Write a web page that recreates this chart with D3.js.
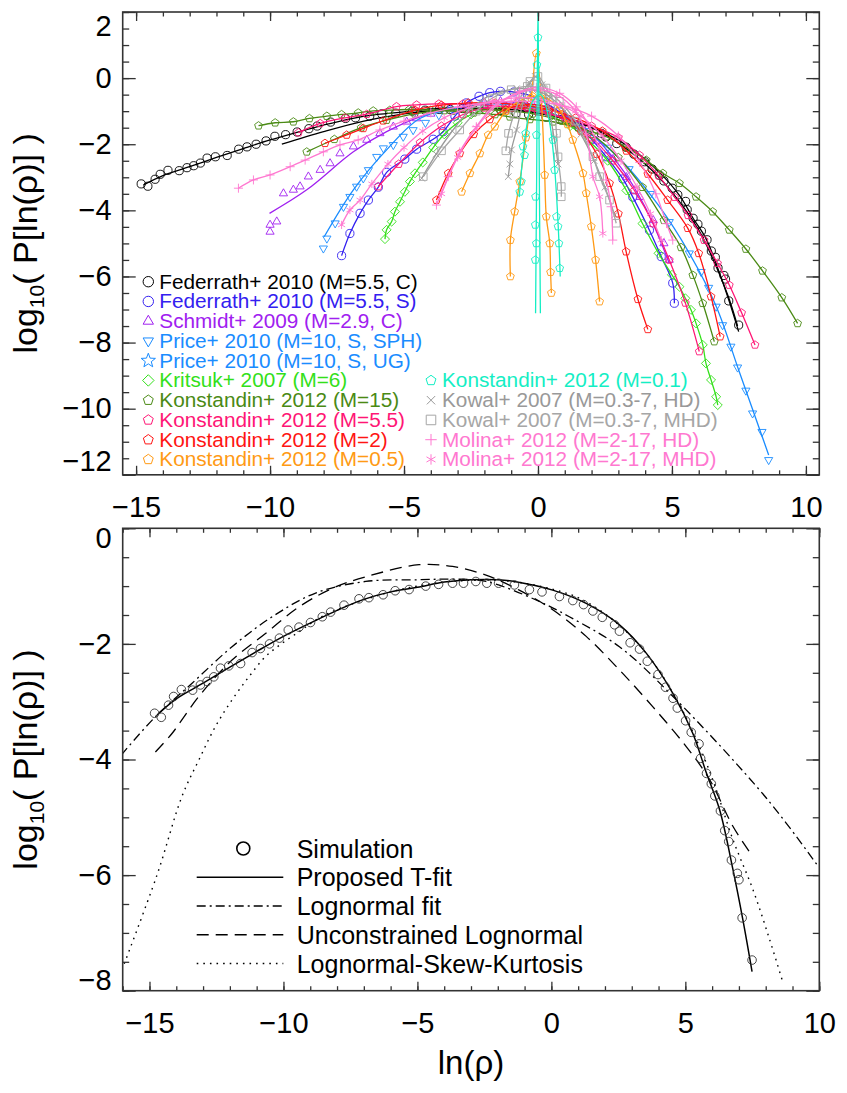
<!DOCTYPE html>
<html>
<head>
<meta charset="utf-8">
<script src="https://cdn.jsdelivr.net/npm/d3@7"></script>
<style>
  body { margin: 0; background: #fff; }
  svg text { font-family: "Liberation Sans", Arial, Helvetica, sans-serif; }
</style>
</head>
<body>
<script>
// ---------------- Data (x = ln(rho), y = log10 P) ----------------

// Federrath+ 2010 (M=5.5, C): also the "Simulation" points of the lower panel
const federrathC = [[-14.81,-3.20],[-14.56,-3.27],[-14.29,-3.06],[-14.10,-2.91],[-13.81,-2.79],[-13.39,-2.80],[-13.10,-2.71],[-12.85,-2.65],[-12.60,-2.57],[-12.35,-2.42],[-12.04,-2.38],[-11.60,-2.34],[-11.17,-2.15],[-10.86,-2.08],[-10.52,-2.00],[-10.15,-1.90],[-9.82,-1.76],[-9.42,-1.71],[-8.99,-1.63],[-8.55,-1.53],[-8.24,-1.45],[-7.74,-1.33],[-7.18,-1.22],[-6.81,-1.20],[-6.28,-1.15],[-5.83,-1.08],[-5.31,-1.06],[-4.69,-1.00],[-4.21,-0.97],[-3.69,-0.95],[-3.28,-0.95],[-2.82,-0.92],[-2.41,-0.95],[-1.97,-0.95],[-1.38,-0.98],[-0.82,-1.06],[-0.35,-1.10],[0.30,-1.18],[0.80,-1.25],[1.20,-1.32],[1.55,-1.43],[1.90,-1.54],[2.36,-1.67],[2.54,-1.78],[2.94,-1.98],[3.29,-2.09],[3.58,-2.30],[3.98,-2.53],[4.26,-2.75],[4.54,-2.94],[4.70,-3.11],[5.01,-3.33],[5.22,-3.53],[5.51,-3.73],[5.57,-3.98],[5.79,-4.24],[5.97,-4.42],[6.10,-4.63],[6.31,-4.89],[6.47,-5.23],[6.62,-5.42],[6.72,-5.74],[6.94,-5.97],[7.00,-6.08],[7.12,-6.74],[7.49,-7.47]];
const tFit = [[-14.72,-3.23],[-14.00,-2.95],[-13.00,-2.68],[-12.00,-2.40],[-11.00,-2.13],[-10.00,-1.87],[-9.00,-1.64],[-8.00,-1.42],[-7.00,-1.23],[-6.00,-1.10],[-5.00,-1.02],[-4.00,-0.93],[-3.00,-0.89],[-2.00,-0.89],[-1.38,-0.92],[0.05,-1.07],[1.30,-1.30],[2.54,-1.67],[3.54,-2.16],[4.54,-2.86],[5.28,-3.55],[5.79,-4.24],[6.28,-4.87],[6.78,-5.91],[7.15,-6.78],[7.49,-7.67]];
const blackSecond = [[-9.56,-2.00],[-8.00,-1.62],[-6.50,-1.30],[-5.00,-1.08],[-3.50,-0.95],[-2.00,-0.92],[-0.50,-1.00],[1.00,-1.22],[2.50,-1.70],[4.00,-2.60],[5.00,-3.45],[6.00,-4.60],[6.60,-5.60],[7.10,-6.60],[7.45,-7.50]];

const federrathS = [[-7.33,-5.37],[-7.02,-4.70],[-6.64,-4.09],[-6.33,-3.69],[-5.96,-3.30],[-5.65,-2.85],[-4.97,-2.45],[-4.53,-2.15],[-3.91,-1.85],[-3.54,-1.62],[-3.10,-1.15],[-2.67,-0.75],[-2.20,-0.55],[-1.80,-0.44],[-1.40,-0.40],[-0.90,-0.42],[-0.40,-0.50],[0.20,-0.72],[0.80,-1.02],[1.40,-1.40],[2.00,-1.85],[2.55,-2.38],[3.17,-3.05],[3.54,-3.60],[4.16,-4.60],[4.60,-5.40],[5.03,-6.20],[5.09,-6.81]];

const schmidt = [[-10.00,-4.65],[-10.00,-4.44],[-9.75,-4.34],[-9.50,-3.49],[-9.13,-3.38],[-8.88,-3.28],[-8.57,-2.98],[-8.13,-2.78],[-7.76,-2.58],[-7.39,-2.28],[-6.89,-2.07],[-6.39,-1.87],[-5.90,-1.67],[-5.40,-1.47],[-4.90,-1.32],[-4.53,-1.22],[-4.00,-1.08],[-3.30,-0.92],[-2.60,-0.82],[-2.00,-0.74],[-1.40,-0.70],[-0.80,-0.72],[-0.20,-0.80],[0.40,-0.95],[1.00,-1.15],[1.60,-1.45],[2.20,-1.90],[2.80,-2.45],[3.30,-3.00],[3.80,-3.60],[4.30,-4.30],[4.70,-5.00],[4.90,-5.50]];
const schmidtFit = [[-10.02,-4.09],[-8.63,-3.38],[-6.89,-2.23],[-5.65,-1.62],[-4.41,-1.17],[-3.00,-0.88],[-1.50,-0.72],[0.00,-0.82],[1.50,-1.35],[3.00,-2.60],[4.00,-3.90],[4.90,-5.60]];

const priceSPH = [[-8.01,-5.15],[-7.88,-4.85],[-7.57,-4.39],[-7.26,-3.89],[-7.02,-3.59],[-6.77,-3.28],[-6.52,-3.03],[-6.33,-2.78],[-6.02,-2.38],[-5.77,-2.12],[-5.40,-2.02],[-5.03,-1.77],[-4.66,-1.57],[-4.20,-1.35],[-3.70,-1.12],[-3.20,-0.95],[-2.60,-0.85],[-2.00,-0.80],[-1.30,-0.78],[-0.50,-0.85],[0.30,-1.00],[1.00,-1.25],[1.80,-1.60],[2.60,-2.10],[3.40,-2.75],[4.20,-3.50],[4.90,-4.35],[5.65,-5.30],[6.09,-5.86],[6.37,-6.34],[6.65,-6.91],[6.89,-7.47],[7.20,-8.12],[7.45,-8.75],[7.76,-9.45],[8.01,-10.14],[8.36,-10.70],[8.61,-11.55]];
const priceFit = [[-7.98,-4.80],[-6.89,-3.38],[-5.65,-2.17],[-4.41,-1.22],[-3.00,-0.90],[-1.50,-0.78],[0.00,-0.92],[1.50,-1.45],[3.00,-2.40],[4.50,-3.85],[5.65,-5.30],[6.65,-6.90],[7.50,-8.85],[8.61,-11.40]];

const kritsuk = [[-5.71,-4.87],[-5.65,-4.59],[-5.46,-4.34],[-5.34,-4.04],[-5.15,-3.74],[-4.97,-3.44],[-4.78,-3.13],[-4.59,-2.88],[-4.30,-2.55],[-3.91,-2.10],[-3.50,-1.70],[-3.00,-1.35],[-2.50,-1.10],[-2.00,-0.95],[-1.40,-0.88],[-0.80,-0.88],[-0.20,-0.95],[0.50,-1.15],[1.20,-1.45],[1.90,-1.90],[2.60,-2.50],[3.30,-3.40],[3.90,-4.40],[4.50,-5.30],[5.00,-5.95],[5.28,-6.31],[5.50,-6.66],[5.71,-7.01],[5.90,-7.42],[6.15,-8.07],[6.27,-8.63],[6.46,-9.13],[6.65,-9.64],[6.71,-9.89]];

const konst15 = [[-10.43,-1.44],[-9.81,-1.35],[-9.13,-1.32],[-8.53,-1.22],[-7.88,-1.15],[-7.33,-1.10],[-6.71,-1.05],[-6.15,-0.99],[-5.53,-0.97],[-4.80,-0.95],[-4.00,-0.97],[-3.20,-1.00],[-2.40,-1.05],[-1.60,-1.10],[-1.05,-1.17],[-0.30,-1.25],[0.56,-1.32],[1.50,-1.50],[2.55,-1.77],[3.30,-2.10],[4.04,-2.48],[4.66,-2.88],[5.28,-3.18],[5.90,-3.59],[6.52,-4.04],[7.14,-4.59],[7.76,-5.17],[8.38,-5.83],[9.10,-6.64],[9.69,-7.42]];
const konst15b = [[-8.63,-2.23],[-7.60,-1.85],[-6.60,-1.50],[-5.65,-1.27],[-4.60,-1.08],[-3.50,-0.98],[-2.40,-0.95],[-1.30,-0.98],[-0.20,-1.08],[0.90,-1.30],[2.00,-1.70],[3.00,-2.40],[3.90,-3.30],[4.70,-4.30],[5.34,-5.12],[5.78,-5.96],[6.15,-6.81],[6.58,-7.97]];

const konst55 = [[-8.94,-1.65],[-8.13,-1.37],[-7.20,-1.20],[-6.39,-1.09],[-5.28,-0.86],[-4.53,-0.81],[-3.70,-0.78],[-2.80,-0.78],[-1.90,-0.82],[-1.00,-0.90],[0.00,-1.02],[1.00,-1.20],[2.00,-1.45],[3.00,-1.80],[3.79,-2.33],[4.50,-2.95],[5.10,-3.60],[5.60,-4.15],[6.20,-4.90],[6.70,-5.60],[7.14,-6.26],[7.60,-7.10],[8.10,-8.07]];
const konst55b = [[-5.96,-3.28],[-5.20,-2.60],[-4.40,-1.95],[-3.60,-1.45],[-2.80,-1.10],[-2.00,-0.90],[-1.20,-0.85],[-0.40,-0.90],[0.40,-1.05],[1.20,-1.35],[2.00,-1.80],[2.80,-2.50],[3.60,-3.40],[4.30,-4.40],[4.90,-5.50],[5.50,-6.80],[6.02,-8.27]];

const konst2 = [[-7.95,-1.97],[-7.14,-1.72],[-6.52,-1.52],[-5.78,-1.29],[-4.59,-0.97],[-3.60,-0.82],[-2.60,-0.75],[-1.60,-0.75],[-0.60,-0.82],[0.40,-0.95],[1.40,-1.20],[2.40,-1.60],[3.30,-2.20],[4.10,-2.90],[4.84,-3.69],[5.59,-4.54],[6.00,-5.30],[6.46,-6.61],[6.80,-7.82]];
const konst2b = [[-3.79,-3.69],[-3.35,-2.88],[-2.92,-2.28],[-2.40,-1.70],[-1.80,-1.25],[-1.20,-0.95],[-0.50,-0.80],[0.20,-0.85],[0.90,-1.10],[1.60,-1.60],[2.20,-2.30],[2.67,-3.18],[3.00,-4.10],[3.29,-5.25],[3.73,-6.69],[4.10,-7.60]];

const konst05 = [[-2.85,-3.44],[-2.54,-2.88],[-2.17,-2.28],[-1.86,-1.72],[-1.61,-1.47],[-1.20,-1.00],[-0.70,-0.70],[-0.20,-0.55],[0.30,-0.60],[0.80,-0.95],[1.10,-1.40],[1.30,-1.87],[1.68,-2.88],[1.80,-3.48],[1.99,-4.49],[2.15,-5.50],[2.30,-6.76]];
const konst05b = [[-1.03,-6.00],[-1.03,-4.90],[-0.87,-4.04],[-0.68,-3.13],[-0.45,-1.80],[-0.25,-0.60],[-0.06,0.75],[0.12,-0.60],[0.25,-2.93],[0.31,-4.19],[0.44,-5.00],[0.47,-5.87],[0.50,-6.50]];

const konst01 = [[-0.10,-5.50],[-0.06,-5.00],[-0.10,-4.44],[-0.09,-3.59],[-0.06,-1.72],[-0.04,0.40],[0.00,1.23]];
const konst01Fit = [[-0.09,-7.11],[-0.05,-3.00],[0.00,2.20],[0.05,-3.00],[0.09,-7.11]];
const konst01b = [[-0.68,-3.44],[-0.62,-3.13],[-0.56,-2.07],[-0.50,-2.33],[-0.46,-1.67],[0.56,-1.87],[0.62,-2.78],[0.69,-4.19],[0.75,-4.49],[0.78,-5.00],[0.81,-5.75]];
const konst01bFit = [[-0.70,-3.60],[-0.45,-1.60],[-0.20,-0.70],[0.10,-0.50],[0.40,-1.20],[0.60,-2.50],[0.75,-4.40],[0.83,-6.00]];

const kowalHDa = [[-1.11,-2.98],[-1.05,-2.60],[-0.99,-2.17],[-0.80,-1.57],[-0.56,-0.76],[-0.30,-0.15],[-0.10,0.05],[0.15,-0.20],[0.40,-0.90],[0.60,-1.80],[0.75,-2.60]];
const kowalHDb = [[-4.34,-3.03],[-3.80,-2.30],[-3.20,-1.60],[-2.60,-1.00],[-2.00,-0.62],[-1.40,-0.42],[-0.80,-0.32],[-0.20,-0.35],[0.40,-0.55],[1.00,-1.00],[1.60,-1.70],[2.10,-2.50],[2.50,-3.30],[2.86,-4.14]];
const kowalMHDa = [[-1.20,-2.20],[-1.10,-1.67],[-0.90,-1.10],[-0.60,-0.50],[-0.30,-0.10],[0.00,0.05],[0.30,-0.30],[0.56,-0.66],[0.69,-1.67],[0.75,-2.38],[0.87,-3.28],[0.87,-3.59]];
const kowalMHDb = [[-4.28,-2.98],[-3.60,-2.20],[-2.92,-1.57],[-2.30,-1.00],[-1.70,-0.60],[-1.00,-0.35],[-0.40,-0.25],[0.20,-0.35],[0.80,-0.70],[1.40,-1.30],[2.05,-2.38],[2.30,-2.98],[2.67,-3.69],[2.92,-4.39]];

const molinaHD = [[-11.18,-3.33],[-10.62,-3.08],[-10.00,-2.93],[-9.25,-2.68],[-8.69,-2.48],[-8.01,-2.23],[-7.39,-2.02],[-6.71,-1.87],[-5.90,-1.57],[-5.00,-1.30],[-4.00,-1.05],[-3.00,-0.88],[-2.00,-0.75],[-1.00,-0.70],[0.00,-0.72],[1.00,-0.85],[2.00,-1.15],[3.00,-1.75],[3.80,-2.55],[4.40,-3.50],[4.80,-4.40],[5.03,-4.90]];
const molinaHDb = [[-3.79,-3.84],[-3.35,-2.98],[-2.92,-2.23],[-2.30,-1.47],[-1.68,-0.87],[-0.68,-0.41],[-0.06,-0.28],[0.81,-0.46],[1.43,-0.87],[1.93,-1.47],[2.30,-2.17],[2.55,-3.08],[2.73,-3.89],[2.79,-4.90]];
const molinaMHD = [[-7.33,-4.44],[-7.02,-3.99],[-6.64,-3.69],[-6.20,-3.20],[-5.60,-2.60],[-5.00,-2.10],[-4.30,-1.60],[-3.50,-1.20],[-2.60,-0.90],[-1.70,-0.70],[-0.80,-0.60],[0.00,-0.62],[0.80,-0.80],[1.60,-1.15],[2.40,-1.75],[3.10,-2.50],[3.70,-3.30],[4.20,-4.10],[4.60,-4.90]];
const molinaMHDb = [[-3.60,-3.50],[-3.00,-2.40],[-2.30,-1.50],[-1.50,-0.80],[-0.70,-0.45],[0.00,-0.35],[0.70,-0.50],[1.40,-1.00],[1.80,-1.70],[2.05,-2.98],[2.30,-3.59],[2.42,-4.70]];

// Lower panel model curves
const lognormalFit = [[-16.05,-3.92],[-14.78,-3.26],[-13.41,-2.68],[-11.92,-2.05],[-10.42,-1.53],[-8.80,-1.12],[-6.93,-0.92],[-4.94,-0.89],[-3.69,-0.88],[-2.44,-0.92],[-0.57,-1.24],[0.67,-1.53],[2.54,-2.05],[4.54,-2.91],[8.03,-4.67],[9.96,-5.85]];
const unconstrainedFit = [[-14.78,-3.87],[-14.16,-3.55],[-13.16,-2.91],[-11.92,-2.28],[-10.67,-1.82],[-9.42,-1.36],[-8.18,-1.04],[-6.93,-0.84],[-4.94,-0.63],[-3.69,-0.66],[-2.44,-0.81],[-1.20,-1.07],[0.05,-1.41],[1.30,-1.87],[2.54,-2.45],[3.79,-3.09],[5.04,-3.78],[5.91,-4.35],[6.78,-5.16],[7.40,-5.60]];
const skewKurtFit = [[-16.03,-7.64],[-14.72,-6.00],[-13.79,-4.64],[-13.16,-4.01],[-12.54,-3.43],[-11.92,-2.97],[-11.29,-2.57],[-10.67,-2.22],[-10.05,-1.99],[-9.42,-1.79],[-8.80,-1.59],[-8.18,-1.44],[-7.00,-1.24],[-6.00,-1.10],[-5.00,-1.00],[-4.00,-0.93],[-3.00,-0.90],[-2.00,-0.90],[-1.00,-0.95],[0.00,-1.05],[1.00,-1.20],[2.00,-1.48],[3.00,-1.88],[4.00,-2.45],[5.00,-3.25],[5.79,-4.07],[6.10,-4.45],[6.78,-5.39],[7.53,-6.26],[8.15,-7.12],[8.65,-7.87]];

// Legends
const legendLabels = ["Federrath+ 2010 (M=5.5, C)", "Federrath+ 2010 (M=5.5, S)", "Schmidt+ 2009 (M=2.9, C)", "Price+ 2010 (M=10, S, SPH)", "Price+ 2010 (M=10, S, UG)", "Kritsuk+ 2007 (M=6)", "Konstandin+ 2012 (M=15)", "Konstandin+ 2012 (M=5.5)", "Konstandin+ 2012 (M=2)", "Konstandin+ 2012 (M=0.5)", "Konstandin+ 2012 (M=0.1)", "Kowal+ 2007 (M=0.3-7, HD)", "Kowal+ 2007 (M=0.3-7, MHD)", "Molina+ 2012 (M=2-17, HD)", "Molina+ 2012 (M=2-17, MHD)"];
const legendColors = ["#000000", "#3320f0", "#a020f0", "#1a8cff", "#1a8cff", "#33e01a", "#4a8a14", "#ff1675", "#ff1414", "#ff9a14", "#14eec4", "#999999", "#a6a6a6", "#ff78d0", "#ff78d0"];
const legendSymbols = ["circle", "circle", "triangleUp", "triangleDown", "star", "diamond", "pentagon", "pentagon", "pentagon", "pentagon", "pentagon", "times", "square", "plus", "asterisk"];

const bottomLabels = ["Simulation", "Proposed T-fit", "Lognormal fit", "Unconstrained Lognormal", "Lognormal-Skew-Kurtosis"];
const bottomDashes = [null, null, "9,4,2,4", "12,7", "1.6,5"];

// Which curves belong to which legend entry
const topSeries = [
    { key: 0, curves: [{ pts: federrathC, fit: tFit }, { fit: blackSecond }] },
    { key: 1, curves: [{ pts: federrathS }] },
    { key: 2, curves: [{ pts: schmidt, fit: schmidtFit }] },
    { key: 3, curves: [{ pts: priceSPH, fit: priceFit }] },
    { key: 5, curves: [{ pts: kritsuk }] },
    { key: 6, curves: [{ pts: konst15 }, { pts: konst15b }] },
    { key: 7, curves: [{ pts: konst55 }, { pts: konst55b }] },
    { key: 8, curves: [{ pts: konst2 }, { pts: konst2b }] },
    { key: 9, curves: [{ pts: konst05 }, { pts: konst05b }] },
    { key: 11, curves: [{ pts: kowalHDa }, { pts: kowalHDb }] },
    { key: 12, curves: [{ pts: kowalMHDa }, { pts: kowalMHDb }] },
    { key: 13, curves: [{ pts: molinaHD }, { pts: molinaHDb }] },
    { key: 14, curves: [{ pts: molinaMHD }, { pts: molinaMHDb }] },
    { key: 10, curves: [{ pts: konst01, fit: konst01Fit }, { pts: konst01b, fit: konst01bFit }] }
];

// ---------------- Symbols (open, IDL-like) ----------------
function poly(ctx, pts) {
    ctx.moveTo(pts[0][0], pts[0][1]);
    pts.slice(1).forEach(p => ctx.lineTo(p[0], p[1]));
    ctx.closePath();
}
function ring(n, r, rot) {
    return d3.range(n).map(i => [r * Math.cos(rot + i * 2 * Math.PI / n), r * Math.sin(rot + i * 2 * Math.PI / n)]);
}
const symbolTypes = {
    circle: { draw(ctx, s) { const r = Math.sqrt(s) / 2; ctx.moveTo(r, 0); ctx.arc(0, 0, r, 0, 2 * Math.PI); } },
    triangleUp: { draw(ctx, s) { poly(ctx, ring(3, Math.sqrt(s) / 2 * 1.15, -Math.PI / 2)); } },
    triangleDown: { draw(ctx, s) { poly(ctx, ring(3, Math.sqrt(s) / 2 * 1.15, Math.PI / 2)); } },
    diamond: { draw(ctx, s) { poly(ctx, ring(4, Math.sqrt(s) / 2 * 1.1, 0)); } },
    pentagon: { draw(ctx, s) { poly(ctx, ring(5, Math.sqrt(s) / 2, -Math.PI / 2)); } },
    square: { draw(ctx, s) { poly(ctx, ring(4, Math.sqrt(s) / 2 * 1.3, Math.PI / 4)); } },
    star: { draw(ctx, s) {
        const r = Math.sqrt(s) / 2;
        poly(ctx, d3.range(10).map(i => {
            const a = -Math.PI / 2 + i * Math.PI / 5, rr = i % 2 ? r * 0.42 : r;
            return [rr * Math.cos(a), rr * Math.sin(a)];
        }));
    } },
    times: { draw(ctx, s) { const r = Math.sqrt(s) / 2 * 0.8; ctx.moveTo(-r, -r); ctx.lineTo(r, r); ctx.moveTo(-r, r); ctx.lineTo(r, -r); } },
    plus: { draw(ctx, s) { const r = Math.sqrt(s) / 2 * 1.1; ctx.moveTo(-r, 0); ctx.lineTo(r, 0); ctx.moveTo(0, -r); ctx.lineTo(0, r); } },
    asterisk: { draw(ctx, s) {
        const r = Math.sqrt(s) / 2;
        ring(6, r, -Math.PI / 2).forEach(p => { ctx.moveTo(0, 0); ctx.lineTo(p[0], p[1]); });
    } }
};
function symbolPath(name, r) {
    return d3.symbol().type(symbolTypes[name]).size((2 * r) * (2 * r))();
}

// ---------------- Panel ----------------
const fmt = d => d < 0 ? "\u2212" + Math.abs(d) : String(d);

class Panel {
    constructor(svg, box, xDomain, yDomain, yMajor, labelInset, id) {
        this.svg = svg;
        this.box = box;
        this.x = d3.scaleLinear().domain(xDomain).range([box.left, box.right]);
        this.y = d3.scaleLinear().domain(yDomain).range([box.bottom, box.top]);
        this.yMajor = yMajor;
        this.labelInset = labelInset;

        svg.append("clipPath").attr("id", id)
            .append("rect")
            .attr("x", box.left).attr("y", box.top)
            .attr("width", box.right - box.left).attr("height", box.bottom - box.top);
        this.plot = svg.append("g").attr("clip-path", `url(#${id})`);
        this.line = d3.line()
            .x(d => this.x(d[0]))
            .y(d => this.y(d[1]))
            .curve(d3.curveCatmullRom.alpha(0.5));
    }

    drawAxes() {
        const { left, right, top, bottom } = this.box;
        const [x0, x1] = this.x.domain();
        const [y0, y1] = this.y.domain();
        const xMinor = d3.range(Math.ceil(x0), x1 + 1e-6, 1);
        const xMajor = xMinor.filter(v => v % 5 === 0);
        const yMinor = d3.range(y0, y1 + 1e-6, 0.5);
        const yMajor = yMinor.filter(v => v % this.yMajor === 0);
        const style = g => g.call(a => a.select(".domain").remove())
            .attr("color", "#333").attr("font-size", null).attr("font-family", null)
            .selectAll("line").attr("stroke-width", 1.3);

        // bottom (with labels) and top
        this.svg.append("g").attr("transform", `translate(0,${bottom})`)
            .call(d3.axisBottom(this.x).tickValues(xMinor).tickSize(-4.5).tickFormat(""))
            .call(style);
        this.svg.append("g").attr("transform", `translate(0,${bottom})`)
            .call(d3.axisBottom(this.x).tickValues(xMajor).tickSize(-9).tickPadding(22).tickFormat(fmt))
            .call(style)
            .selectAll("text").attr("font-size", 29).attr("fill", "#000");
        this.svg.append("g").attr("transform", `translate(0,${top})`)
            .call(d3.axisTop(this.x).tickValues(xMinor).tickSize(-4.5).tickFormat(""))
            .call(style);
        this.svg.append("g").attr("transform", `translate(0,${top})`)
            .call(d3.axisTop(this.x).tickValues(xMajor).tickSize(-9).tickFormat(""))
            .call(style);

        // left (with labels) and right
        this.svg.append("g").attr("transform", `translate(${left},0)`)
            .call(d3.axisLeft(this.y).tickValues(yMinor).tickSize(-6.5).tickFormat(""))
            .call(style);
        const yl = this.svg.append("g").attr("transform", `translate(${left},0)`)
            .call(d3.axisLeft(this.y).tickValues(yMajor).tickSize(-13).tickPadding(11).tickFormat(fmt))
            .call(style);
        yl.selectAll("text").attr("font-size", 29).attr("fill", "#000")
            .attr("y", d => d === y1 ? this.labelInset : d === y0 ? -this.labelInset : 0);
        this.svg.append("g").attr("transform", `translate(${right},0)`)
            .call(d3.axisRight(this.y).tickValues(yMinor).tickSize(-6.5).tickFormat(""))
            .call(style);
        this.svg.append("g").attr("transform", `translate(${right},0)`)
            .call(d3.axisRight(this.y).tickValues(yMajor).tickSize(-13).tickFormat(""))
            .call(style);

        this.svg.append("rect")
            .attr("x", left).attr("y", top)
            .attr("width", right - left).attr("height", bottom - top)
            .attr("fill", "none").attr("stroke", "#333").attr("stroke-width", 1.6);
    }

    yTitle(xPos) {
        const cy = (this.box.top + this.box.bottom) / 2;
        const t = this.svg.append("text")
            .attr("transform", `translate(${xPos},${cy}) rotate(-90)`)
            .attr("text-anchor", "middle").attr("font-size", 34).attr("fill", "#000");
        t.append("tspan").text("log");
        t.append("tspan").attr("font-size", 21).attr("dy", 7).text("10");
        t.append("tspan").attr("dy", -7).text("( P[ln(\u03c1)] )");
    }

    curve(pts, color, width, dash) {
        this.plot.append("path").datum(pts)
            .attr("d", this.line)
            .attr("fill", "none").attr("stroke", color)
            .attr("stroke-width", width)
            .attr("stroke-dasharray", dash);
    }

    markers(pts, symbol, color, r, width) {
        this.plot.append("g").selectAll("path").data(pts).join("path")
            .attr("transform", d => `translate(${this.x(d[0])},${this.y(d[1])})`)
            .attr("d", symbolPath(symbol, r))
            .attr("fill", "none").attr("stroke", color).attr("stroke-width", width);
    }
}

// ---------------- Build figure ----------------
const W = 847, H = 1093;
const svg = d3.select("body").append("svg").attr("width", W).attr("height", H);

// Upper panel: all simulations
const upper = new Panel(svg, { left: 122.7, right: 819.3, top: 12, bottom: 474.8 }, [-15.5, 10.5], [-12, 2], 2, 14, "clipTop");
topSeries.forEach(s => {
    const color = legendColors[s.key];
    s.curves.forEach(c => {
        upper.curve(c.fit || c.pts, color, 1.3, null);
        if (c.pts) upper.markers(c.pts, legendSymbols[s.key], color, 4.1, 0.9);
    });
});
upper.drawAxes();
upper.yTitle(37);

// Upper legend, two columns (text stretched a little: the original face is wider)
const legendRows = legendLabels.map((label, i) => ({
    label, i,
    col: i < 10 ? 0 : 1,
    row: i < 10 ? i : i - 5
}));
const legendG = svg.append("g").attr("font-size", 19.5);
legendG.selectAll("g").data(legendRows).join("g")
    .attr("transform", d => `translate(${d.col ? 431 : 148.3},${281.7 + 19.75 * d.row})`)
    .each(function (d) {
        const g = d3.select(this);
        g.append("path")
            .attr("d", symbolPath(legendSymbols[d.i], legendSymbols[d.i] === "star" ? 7.5 : 5.2))
            .attr("fill", "none").attr("stroke", legendColors[d.i]).attr("stroke-width", 1);
        g.append("text")
            .attr("transform", "translate(11,7) scale(1.065,1)")
            .attr("fill", legendColors[d.i]).text(d.label);
    });

// Lower panel: Federrath C with the model fits
const lower = new Panel(svg, { left: 122.7, right: 819.3, top: 528.3, bottom: 990.7 }, [-16, 10], [-8, 0], 2, 10, "clipBottom");
lower.curve(lognormalFit, "#000", 1.3, bottomDashes[2]);
lower.curve(unconstrainedFit, "#000", 1.3, bottomDashes[3]);
lower.curve(skewKurtFit, "#000", 1.4, bottomDashes[4]);
lower.curve(tFit, "#000", 1.5, null);
lower.markers(federrathC, "circle", "#333", 4.3, 0.9);
lower.drawAxes();
lower.yTitle(37);

svg.append("text")
    .attr("x", (122.7 + 819.3) / 2).attr("y", 1074)
    .attr("text-anchor", "middle").attr("font-size", 33).attr("fill", "#000")
    .text("ln(\u03c1)");

// Lower legend
const bottomLegend = svg.append("g").attr("font-size", 25);
bottomLabels.forEach((label, i) => {
    const cy = 848.5 + 28.75 * i;
    if (i === 0) {
        bottomLegend.append("path")
            .attr("transform", `translate(243.3,${cy})`)
            .attr("d", symbolPath("circle", 6.5))
            .attr("fill", "none").attr("stroke", "#000").attr("stroke-width", 1.6);
    } else {
        bottomLegend.append("line")
            .attr("x1", 196.7).attr("x2", 283.3).attr("y1", cy).attr("y2", cy)
            .attr("stroke", "#000").attr("stroke-width", 1.6)
            .attr("stroke-dasharray", bottomDashes[i]);
    }
    bottomLegend.append("text").attr("x", 296.7).attr("y", cy + 9).attr("fill", "#000").text(label);
});
</script>
</body>
</html>
